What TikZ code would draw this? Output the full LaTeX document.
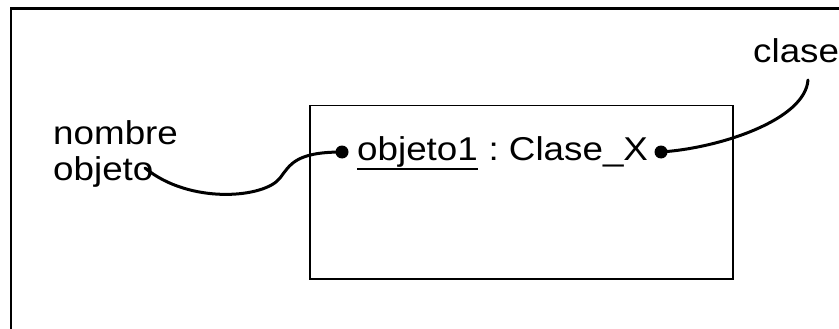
\documentclass[tikz,border=0pt]{standalone}
\usepackage{fontspec}
\usepackage{graphicx}
\setmainfont{Liberation Sans}
\newcommand{\wide}[1]{\scalebox{1.115}[1]{#1}}
\begin{document}
\begin{tikzpicture}[x=1pt,y=-1pt,
  label/.style={inner sep=0pt,font=\fontsize{33}{37}\selectfont},
  pin/.style={circle,fill=black,inner sep=0pt,minimum size=13pt},
  link/.style={line width=3pt,line cap=round},
  frame/.style={line width=2.6pt},
  objbox/.style={draw,line width=1.5pt,inner sep=0pt,minimum width=423pt,minimum height=173pt,anchor=north west}]
\useasboundingbox (0,0) rectangle (839,329);
% open outer frame (left and top edges only)
\draw[frame] (11,340) -- (11,8.5) -- (850,8.5);
% object box
\node[objbox] (box) at (309,105) {};
% object title
\node[label,anchor=base west] (obj) at (357,160.5) {\wide{objeto1}};
\node[label,anchor=base west] (cls) at (obj.base east) {\wide{\ :\ Clase\_X}};
\draw[line width=2.8pt] ([yshift=-8.5pt]obj.base west) -- ([yshift=-8.5pt]obj.base east);
% side labels
\node[label,anchor=base west] (nom) at (53,145) {\wide{nombre}};
\node[label,anchor=base west] (objname) at (53,180) {\wide{objeto}};
\node[label,anchor=base west] (clase) at (753,63) {\wide{clase}};
% attachment points
\node[pin] (pl) at (342,152) {};
\node[pin] (pr) at (661,152) {};
\coordinate (endl) at (145,168);
\coordinate (endr) at (808,80);
% connectors
\draw[link] (pl.center) .. controls (295,152) and (290,165) .. (280,178)
  .. controls (265,198) and (190,205) .. (endl);
\draw[link] (pr.center) .. controls (720,148) and (805,120) .. (endr);
\end{tikzpicture}
\end{document}
